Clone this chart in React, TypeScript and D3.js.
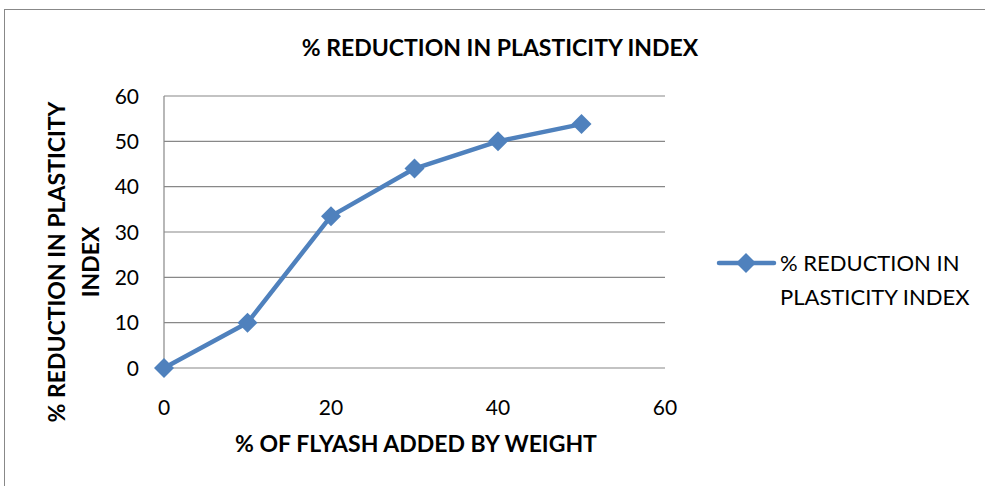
import React from "react";
import * as d3 from "d3";

const flyashPct = [0, 10, 20, 30, 40, 50];
const reductionPI = [0, 10, 33.5, 44, 50, 53.8];
const xTicks = [0, 20, 40, 60];
const yTicks = [0, 10, 20, 30, 40, 50, 60];
const seriesName = "% REDUCTION IN PLASTICITY INDEX";

export default function App() {
  const W = 985, H = 486;
  const x = d3.scaleLinear().domain([0, 60]).range([164, 665]);
  const y = d3.scaleLinear().domain([0, 60]).range([368, 96]);
  const pts = flyashPct.map((v, i) => [x(v), y(reductionPI[i])] as [number, number]);
  const line = d3.line()(pts) || "";
  const color = "#4F81BD";
  const font = "Lato, 'Open Sans', sans-serif";
  const diamond = (cx: number, cy: number, r: number) =>
    `M${cx},${cy - r}L${cx + r},${cy}L${cx},${cy + r}L${cx - r},${cy}Z`;
  return (
    <svg width={W} height={H} style={{ position: "absolute", left: 0, top: 0 }} fontFamily={font}>
      <rect x={0} y={0} width={W} height={H} fill="#fff" />
      <rect x={4.5} y={9.5} width={W + 20} height={H + 20} fill="none" stroke="#888" strokeWidth={1} />
      <text x={500} y={56} textAnchor="middle" fontSize={23} fontWeight="bold">{seriesName}</text>
      {yTicks.map((t) => (
        <g key={t}>
          <line x1={x(0)} x2={x(60)} y1={y(t)} y2={y(t)} stroke="#888" strokeWidth={1.2} />
          <text x={139} y={y(t)} dy="0.36em" textAnchor="end" fontSize={21}>{t}</text>
        </g>
      ))}
      <line x1={x(0)} x2={x(0)} y1={y(0)} y2={y(60)} stroke="#888" strokeWidth={1.2} />
      {xTicks.map((t) => (
        <text key={t} x={x(t)} y={415} textAnchor="middle" fontSize={21}>{t}</text>
      ))}
      <path d={line} fill="none" stroke={color} strokeWidth={4.5} strokeLinejoin="round" />
      {pts.map(([px, py], i) => (
        <path key={i} d={diamond(px, py, 10)} fill={color} />
      ))}
      <text x={416} y={452} textAnchor="middle" fontSize={23} fontWeight="bold">% OF FLYASH ADDED BY WEIGHT</text>
      <g transform="translate(65,262) rotate(-90)">
        <text x={0} y={0} textAnchor="middle" fontSize={23} fontWeight="bold">% REDUCTION IN PLASTICITY</text>
        <text x={0} y={34} textAnchor="middle" fontSize={23} fontWeight="bold">INDEX</text>
      </g>
      <line x1={719} x2={774} y1={263} y2={263} stroke={color} strokeWidth={4.5} strokeLinecap="round" />
      <path d={diamond(746, 263, 10)} fill={color} />
      <text x={780} y={271} fontSize={22}>% REDUCTION IN</text>
      <text x={780} y={305} fontSize={22}>PLASTICITY INDEX</text>
    </svg>
  );
}
